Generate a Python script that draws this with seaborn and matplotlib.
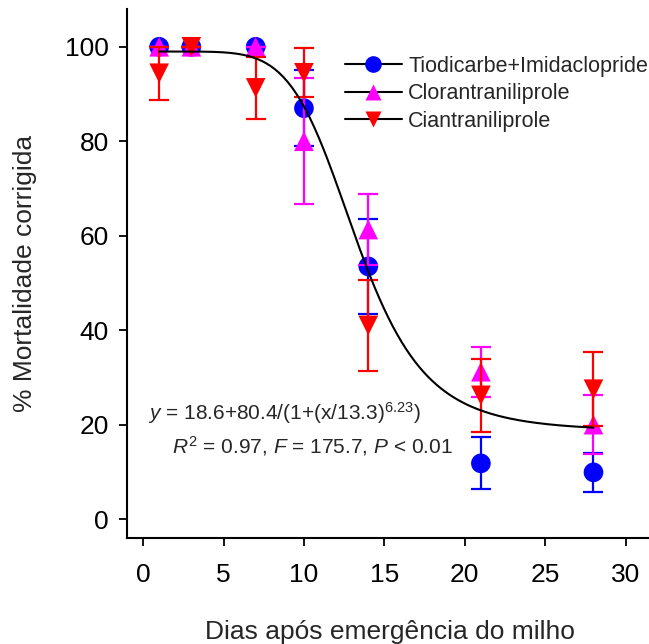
import numpy as np
import pandas as pd
import matplotlib
matplotlib.use('Agg')
import matplotlib.pyplot as plt
from matplotlib.lines import Line2D
import seaborn as sns

# dados
dias = [1, 3, 7, 10, 14, 21, 28]
tiodicarbe = [100, 100, 100, 87.0, 53.5, 11.8, 9.9]
tiodicarbe_err = [0, 0, 0, 8.0, 10.0, 5.5, 4.1]
clorantraniliprole = [100, 100, 100, 80.0, 61.3, 31.2, 20.0]
clorantraniliprole_err = [0, 0, 0, 13.3, 7.6, 5.3, 6.3]
ciantraniliprole = [94.4, 100, 91.3, 94.5, 41.0, 26.2, 27.5]
ciantraniliprole_err = [5.6, 0, 6.6, 5.2, 9.7, 7.7, 7.8]

# parâmetros do ajuste
y0, a, x0, b = 18.6, 80.4, 13.3, 6.23

sns.set_theme(style='white')
plt.rcParams['font.family'] = ['Liberation Sans', 'DejaVu Sans']
plt.rcParams['mathtext.fontset'] = 'custom'
plt.rcParams['mathtext.rm'] = 'Liberation Sans'
plt.rcParams['mathtext.it'] = 'Liberation Sans:italic'

fig = plt.figure(figsize=(6.49, 6.44), dpi=100)
ax = fig.add_axes([127 / 649, 106 / 644, 526 / 649, (538 - 9) / 644])

series = [
    ('Tiodicarbe+Imidaclopride', tiodicarbe, tiodicarbe_err, 'blue', 'o'),
    ('Clorantraniliprole', clorantraniliprole, clorantraniliprole_err, 'magenta', '^'),
    ('Ciantraniliprole', ciantraniliprole, ciantraniliprole_err, 'red', 'v'),
]

handles = []
for i, (nome, vals, err, cor, mk) in enumerate(series):
    ax.errorbar(dias, vals, yerr=err, fmt='none', ecolor=cor, elinewidth=1.6,
                capsize=7, capthick=1.6, zorder=2 + i)
    df = pd.DataFrame({'dias': dias, 'mort': vals})
    sns.scatterplot(data=df, x='dias', y='mort', color=cor, marker=mk, s=200,
                    edgecolor='none', ax=ax, zorder=2.5 + i)
    handles.append(Line2D([0], [0], color='black', lw=1.5, marker=mk, markersize=12,
                          markerfacecolor=cor, markeredgecolor='none', label=nome))

# curva ajustada
xs = np.linspace(1, 28, 200)
curva = pd.DataFrame({'x': xs, 'y': y0 + a / (1 + (xs / x0) ** b)})
sns.lineplot(data=curva, x='x', y='y', color='black', lw=1.5, ax=ax, zorder=10)

ax.set_xlim(-1, 31.7)
ax.set_ylim(-4, 108)
ax.set_xticks([0, 5, 10, 15, 20, 25, 30])
ax.set_yticks([0, 20, 40, 60, 80, 100])
ax.tick_params(axis='both', direction='out', length=6, width=1.3, labelsize=19,
               left=True, bottom=True, colors='black')
ax.tick_params(axis='x', pad=12)
ax.tick_params(axis='y', pad=7)
for s in ['top', 'right']:
    ax.spines[s].set_visible(False)
for s in ['left', 'bottom']:
    ax.spines[s].set_color('black')
    ax.spines[s].set_linewidth(1.5)

ax.set_xlabel('Dias após emergência do milho', fontsize=19, labelpad=24)
ax.set_ylabel('% Mortalidade corrigida', fontsize=19, labelpad=20)

ax.text(0.3, 22.5, r'$\it{y}$ = 18.6+80.4/(1+(x/13.3)$^{6.23}$)', fontsize=15, va='center')
ax.text(1.8, 15.5, r'$\it{R}^2$ = 0.97, $\it{F}$ = 175.7, $\it{P}$ < 0.01', fontsize=15, va='center')

ax.legend(handles=handles, loc='upper left', bbox_to_anchor=(334 / 649, 1 - 45 / 644),
          bbox_transform=fig.transFigure, frameon=False,
          fontsize=15.5, handlelength=2.65, handletextpad=0.3, labelspacing=0.3, borderpad=0)

fig.savefig('out.png', dpi=100)
